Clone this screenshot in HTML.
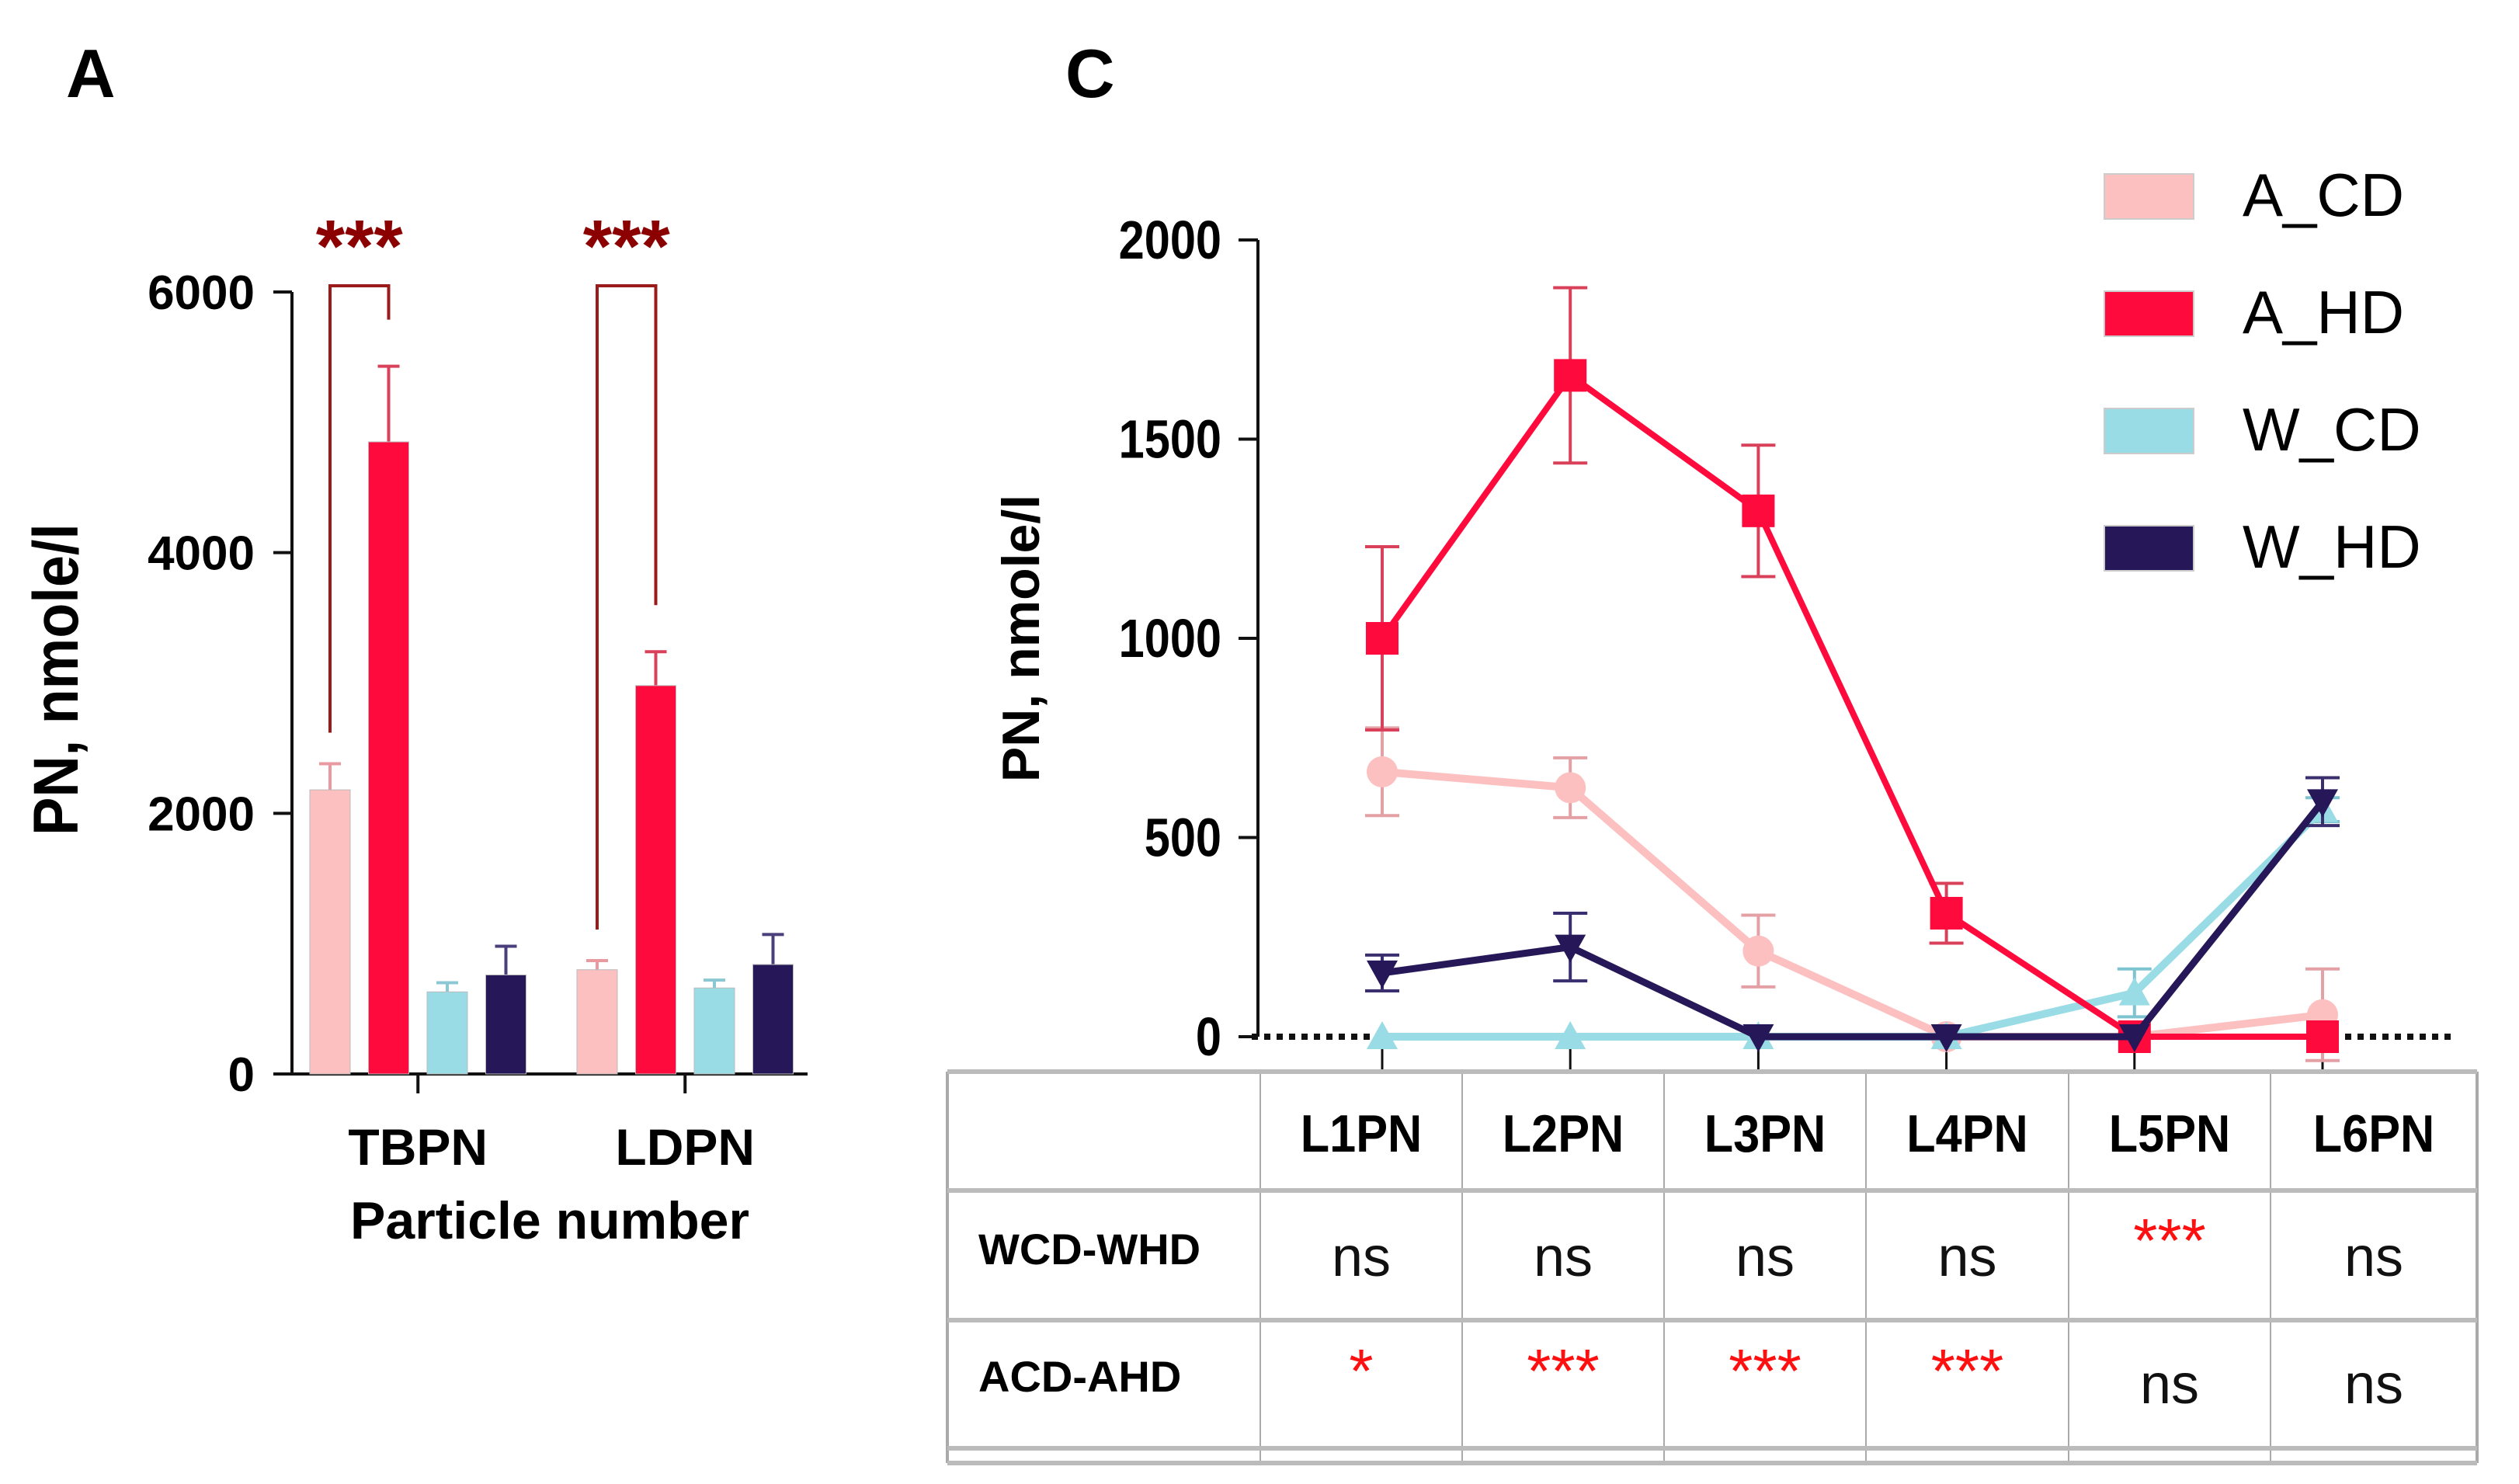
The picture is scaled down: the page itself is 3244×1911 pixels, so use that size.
<!DOCTYPE html>
<html><head><meta charset="utf-8"><style>
body{margin:0;background:#fff}
svg{display:block;font-family:"Liberation Sans",sans-serif}
</style></head><body>
<svg id="fig" width="3244" height="1911" viewBox="0 0 3244 1911">
<text x="85" y="125" font-size="88" font-weight="bold">A</text>
<text x="1372" y="125" font-size="88" font-weight="bold">C</text>
<g id="panelA"></g>
<g id="panelC"></g>
<g id="table"></g>
</svg>
<script>
const NS="http://www.w3.org/2000/svg";
function mk(p,tag,a,txt){const e=document.createElementNS(NS,tag);for(const k in a)e.setAttribute(k,a[k]);if(txt!==undefined)e.textContent=txt;p.appendChild(e);return e;}
// ---- Panel A data ----
const barCategories=["TBPN","LDPN"];
const barSeries=["A_CD","A_HD","W_CD","W_HD"];
const barValues=[[2180,4850,630,760],[800,2980,660,840]];
const barErrors=[[200,580,70,220],[70,260,60,230]];
const barTicks=[0,2000,4000,6000];
const colors=["#FDC0C0","#FF0A3C","#9ADCE6","#261858"];
const errColors=["#E89AA0","#D9405A","#8CC8D4","#4A3F7A"];
// ---- Panel C data ----
const lineCategories=["L1PN","L2PN","L3PN","L4PN","L5PN","L6PN"];
const lineACD=[665,625,215,0,0,55];
const lineACDerr=[110,75,90,0,0,115];
const lineAHD=[1000,1660,1320,310,0,0];
const lineAHDerr=[230,220,165,75,0,0];
const lineWCD=[0,0,0,0,110,570];
const lineWCDerr=[0,0,0,0,60,30];
const lineWHD=[160,225,0,0,0,590];
const lineWHDerr=[45,85,0,0,0,60];
const lineTicks=[0,500,1000,1500,2000];
const rowLabels=["WCD-WHD","ACD-AHD"];
const rowWCD=["ns","ns","ns","ns","***","ns"];
const rowACD=["*","***","***","***","ns","ns"];

// Panel A
const A=document.getElementById('panelA');
const ay=v=>1383-v*(1007/6000);
const groupStart=[399,743], barStep=75.5, bw=52;
let e;
e=mk(A,'line',{x1:376,y1:376,x2:376,y2:1383,stroke:'#111','stroke-width':4});

e=mk(A,'line',{x1:376,y1:1383,x2:1040,y2:1383,stroke:'#111','stroke-width':4});

barTicks.forEach(t=>{
 mk(A,'line',{x1:352,y1:ay(t),x2:376,y2:ay(t),stroke:'#111','stroke-width':4});
 e=mk(A,'text',{x:328,y:ay(t)+22,'font-size':62,'font-weight':'bold','text-anchor':'end'},t);
 
});
e=mk(A,'text',{x:0,y:0,'font-size':82,'font-weight':'bold','text-anchor':'middle',transform:'translate(100,875) rotate(-90) scale(0.9,1)'},'PN, nmole/l');

barCategories.forEach((c,gi)=>{
 const cx=groupStart[gi]+barStep*1.5+bw/2;
 mk(A,'line',{x1:cx,y1:1383,x2:cx,y2:1408,stroke:'#111','stroke-width':4});
 e=mk(A,'text',{x:cx,y:1500,'font-size':66,'font-weight':'bold','text-anchor':'middle'},c);
 
 barValues[gi].forEach((v,si)=>{
  const x=groupStart[gi]+si*barStep, xc=x+bw/2;
  e=mk(A,'line',{x1:xc,y1:ay(v),x2:xc,y2:ay(v+barErrors[gi][si]),stroke:errColors[si],'stroke-width':4});
  
  mk(A,'line',{x1:xc-14,y1:ay(v+barErrors[gi][si]),x2:xc+14,y2:ay(v+barErrors[gi][si]),stroke:errColors[si],'stroke-width':4});
  e=mk(A,'rect',{x:x,y:ay(v),width:bw,height:1383-ay(v),fill:colors[si],stroke:'#bbb','stroke-width':1});
  
 });
});
e=mk(A,'text',{x:708,y:1595,'font-size':68,'font-weight':'bold','text-anchor':'middle'},'Particle number');

[[0,1],[1,1]].forEach((p,gi)=>{
 const x1=groupStart[gi]+bw/2, x2=groupStart[gi]+barStep+bw/2;
 const y1=ay(barValues[gi][0]+barErrors[gi][0])-40, y2=ay(barValues[gi][1]+barErrors[gi][1])-60, top=368;
 e=mk(A,'polyline',{points:`${x1},${y1} ${x1},${top} ${x2},${top} ${x2},${y2}`,fill:'none',stroke:'#9B1B1B','stroke-width':4});
 
 e=mk(A,'text',{x:(x1+x2)/2,y:350,'font-size':96,'font-weight':'bold','text-anchor':'middle',fill:'#8B0000'},'***');
 
});

// Panel C
const C=document.getElementById('panelC');
const cy=v=>1335-v*(1026/2000);
const cx=i=>1780+i*242.2;
e=mk(C,'line',{x1:1620,y1:309,x2:1620,y2:1335,stroke:'#111','stroke-width':4});

lineTicks.forEach(t=>{
 mk(C,'line',{x1:1595,y1:cy(t),x2:1620,y2:cy(t),stroke:'#111','stroke-width':4});
 e=mk(C,'text',{x:1573,y:cy(t)+24,'font-size':70,'font-weight':'bold','text-anchor':'end',transform:`translate(${1573*0.15},0) scale(0.85,1)`},t);
 
});
e=mk(C,'text',{x:0,y:0,'font-size':68,'font-weight':'bold','text-anchor':'middle',transform:'translate(1338,822) rotate(-90)'},'PN, nmole/l');

e=mk(C,'line',{x1:1612,y1:1335,x2:3160,y2:1335,stroke:'#111','stroke-width':8,'stroke-dasharray':'8 8'});

lineCategories.forEach((c,i)=>{mk(C,'line',{x1:cx(i),y1:1335,x2:cx(i),y2:1380,stroke:'#111','stroke-width':3});});
const series=[
 {n:'a-cd',v:lineACD,er:lineACDerr,c:'#FDC0C0',ec:'#E3A0A5',m:'circle',w:10},
 {n:'w-cd',v:lineWCD,er:lineWCDerr,c:'#9ADCE6',ec:'#7EC4D0',m:'up',w:10},
 {n:'a-hd',v:lineAHD,er:lineAHDerr,c:'#FF0A3C',ec:'#D9405A',m:'square',w:8},
 {n:'w-hd',v:lineWHD,er:lineWHDerr,c:'#261858',ec:'#3A2E6E',m:'down',w:9}];
series.forEach(s=>{
 s.v.forEach((v,i)=>{ if(s.er[i]>0){
  e=mk(C,'line',{x1:cx(i),y1:cy(v-s.er[i]),x2:cx(i),y2:cy(v+s.er[i]),stroke:s.ec,'stroke-width':4});
  
  [v-s.er[i],v+s.er[i]].forEach(b=>mk(C,'line',{x1:cx(i)-22,y1:cy(b),x2:cx(i)+22,y2:cy(b),stroke:s.ec,'stroke-width':4}));
 }});
 e=mk(C,'polyline',{points:s.v.map((v,i)=>cx(i)+','+cy(v)).join(' '),fill:'none',stroke:s.c,'stroke-width':s.w});
 
 s.v.forEach((v,i)=>{
  const x=cx(i),y=cy(v);let m;
  if(s.m==='circle')m=mk(C,'circle',{cx:x,cy:y,r:20,fill:s.c});
  else if(s.m==='square')m=mk(C,'rect',{x:x-21,y:y-21,width:42,height:42,fill:s.c});
  else if(s.m==='up')m=mk(C,'polygon',{points:`${x-20},${y+16} ${x+20},${y+16} ${x},${y-20}`,fill:s.c});
  else m=mk(C,'polygon',{points:`${x-20},${y-16} ${x+20},${y-16} ${x},${y+20}`,fill:s.c});
  
  
 });
});
const legNames=["A_CD","A_HD","W_CD","W_HD"];
legNames.forEach((n,i)=>{
 const y=224+i*151;
 e=mk(C,'rect',{x:2710,y:y,width:115,height:58,fill:colors[i],stroke:'#ccc','stroke-width':2});
 
 e=mk(C,'text',{x:2888,y:y+54,'font-size':78},n);
 
});
// table
const T=document.getElementById('table');
const colX=[1220,1623,1883,2143,2403,2664,2924,3190];
const rowY=[1380,1533,1700,1865,1884];
colX.forEach((x,i)=>mk(T,'line',{x1:x,y1:1380,x2:x,y2:1884,stroke:'#aaa','stroke-width':(i==0||i==7)?4:2}));
rowY.forEach(y=>mk(T,'line',{x1:1220,y1:y,x2:3190,y2:y,stroke:'#bbb','stroke-width':6}));
lineCategories.forEach((c,i)=>{
 const x=(colX[i+1]+colX[i+2])/2;
 e=mk(T,'text',{x:x,y:1483,'font-size':68,'font-weight':'bold','text-anchor':'middle',transform:`translate(${x*0.1},0) scale(0.9,1)`},c);
 
 [[rowWCD,1643,1625],[rowACD,1807,1793]].forEach(([row,yn,ys])=>{
  const star=row[i]!=='ns';
  e=mk(T,'text',{x:x,y:star?ys:yn,'font-size':star?80:72,'text-anchor':'middle',fill:star?'#FF1010':'#111'},row[i]);
  
 });
});
rowLabels.forEach((r,i)=>{
 e=mk(T,'text',{x:1260,y:[1628,1792][i],'font-size':56,'font-weight':'bold'},r);
 
});
</script>
</body></html>
